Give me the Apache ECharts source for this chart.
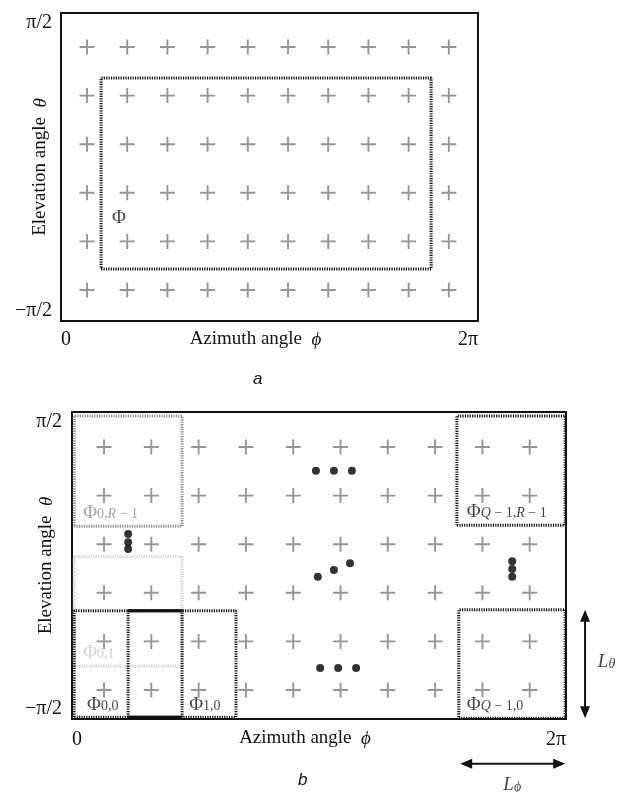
<!DOCTYPE html>
<html>
<head>
<meta charset="utf-8">
<script src="https://cdn.jsdelivr.net/npm/echarts@6/dist/echarts.min.js"></script>
<style>
  html, body { margin: 0; padding: 0; background: #fff; }
  #main { width: 619px; height: 792px; }
</style>
</head>
<body>
<div id="main"></div>
<script>
// grid of sampling directions (cell units, column / row index)
const gridCols = [0, 1, 2, 3, 4, 5, 6, 7, 8, 9];
const gridRows = [0, 1, 2, 3, 4, 5];

// region boxes [x0, y0, x1, y1] in cell units
const boxPhi = [0.35, 0.43, 8.56, 4.36];
const boxR = [-0.63, 3.37, 1.65, 5.64];   // Phi_{0,R-1}
const box01 = [-0.63, 0.49, 1.65, 2.74];  // Phi_{0,1}
const box00 = [-0.63, -0.56, 1.65, 1.63]; // Phi_{0,0}
const box10 = [0.51, -0.56, 2.79, 1.63];  // Phi_{1,0}
const boxQR = [7.46, 3.39, 9.75, 5.64];   // Phi_{Q-1,R-1}
const boxQ0 = [7.50, -0.58, 9.75, 1.65];  // Phi_{Q-1,0}

// ellipsis dots
const dotsTop = [[4.48, 4.51], [4.86, 4.51], [5.24, 4.51]];
const dotsDiag = [[4.52, 2.33], [4.86, 2.47], [5.2, 2.61]];
const dotsBottom = [[4.57, 0.45], [4.95, 0.45], [5.33, 0.45]];
const dotsLeft = [[0.51, 3.21], [0.51, 3.04], [0.51, 2.90]];
const dotsRight = [[8.63, 2.65], [8.63, 2.49], [8.63, 2.33]];

// size arrows L_theta and L_phi [x0, y0, x1, y1]
const arrowTheta = [10.17, 1.65, 10.17, -0.58];
const arrowPhi = [7.53, -1.52, 9.75, -1.52];

// tick labels
const xTicks = ['0', '2π'];
const yTicks = ['−π/2', 'π/2'];

const serif = '"Liberation Serif", "DejaVu Serif", serif';
const plusPath = 'path://M7,0H9V7H16V9H9V16H7V9H0V7H7Z';

const chart = echarts.init(document.getElementById('main'));

function boxLine(b) {
  return [[b[0], b[1]], [b[2], b[1]], [b[2], b[3]], [b[0], b[3]], [b[0], b[1]]];
}
function plusData() {
  const d = [];
  gridRows.forEach(r => gridCols.forEach(c => d.push([c, r])));
  return d;
}
function boxSeries(b, gi, color) {
  return {
    type: 'line', xAxisIndex: gi, yAxisIndex: gi, data: boxLine(b),
    symbol: 'none', silent: true, z: 3,
    lineStyle: { color: color, width: 3, type: [1.2, 1.2] }
  };
}
function solidSeg(pts, gi) {
  return {
    type: 'line', xAxisIndex: gi, yAxisIndex: gi, data: pts,
    symbol: 'none', silent: true, z: 4,
    lineStyle: { color: '#111', width: 3 }
  };
}
function xAxisOf(gi, min, max, margin, pad) {
  return {
    gridIndex: gi, type: 'value', min: min, max: max, interval: max - min,
    axisLine: { show: false }, axisTick: { show: false }, splitLine: { show: false },
    axisLabel: {
      margin: margin, color: '#111', fontFamily: serif, fontSize: 20,
      alignMinLabel: 'left', alignMaxLabel: 'right',
      formatter: v => (Math.abs(v - min) < 1e-6 ? xTicks[0] : xTicks[1])
    },
    name: 'Azimuth angle  {i|ϕ}', nameLocation: 'middle', nameGap: pad, nameMoveOverlap: false,
    nameTextStyle: {
      color: '#111', fontFamily: serif, fontSize: 19, padding: [0, 28, 0, 0],
      rich: { i: { fontFamily: serif, fontStyle: 'italic', fontSize: 19, color: '#111' } }
    }
  };
}
function yAxisOf(gi, min, max, margin, gap) {
  return {
    gridIndex: gi, type: 'value', min: min, max: max, interval: max - min,
    axisLine: { show: false }, axisTick: { show: false }, splitLine: { show: false },
    axisLabel: {
      margin: margin, color: '#111', fontFamily: serif, fontSize: 20,
      verticalAlignMinLabel: 'bottom', verticalAlignMaxLabel: 'top',
      formatter: v => (Math.abs(v - min) < 1e-6 ? yTicks[0] : yTicks[1])
    },
    name: 'Elevation angle  {i|θ}', nameLocation: 'middle', nameGap: gap, nameRotate: 90,
    nameMoveOverlap: false,
    nameTextStyle: {
      color: '#111', fontFamily: serif, fontSize: 19,
      rich: { i: { fontFamily: serif, fontStyle: 'italic', fontSize: 19, color: '#111' } }
    }
  };
}

const richSub = {
  P: { fontFamily: serif, fontSize: 19, lineHeight: 18, verticalAlign: 'top' },
  s: { fontFamily: serif, fontSize: 14, lineHeight: 13, verticalAlign: 'bottom' },
  si: { fontFamily: serif, fontSize: 14, lineHeight: 13, verticalAlign: 'bottom', fontStyle: 'italic' },
  L: { fontFamily: serif, fontSize: 19, lineHeight: 19, verticalAlign: 'top', fontStyle: 'italic' }
};
function textSeries(items, gi, color) {
  return {
    type: 'scatter', xAxisIndex: gi, yAxisIndex: gi, symbolSize: 0, clip: false, silent: true, z: 6,
    data: items.map(t => ({
      value: [t[0], t[1]],
      label: {
        show: true, position: t[3] || 'right', distance: 0, color: t[4] || color,
        formatter: t[2], lineHeight: 24, rich: richSub
      }
    }))
  };
}
function dotSeries(pts) {
  return {
    type: 'scatter', xAxisIndex: 1, yAxisIndex: 1, data: pts, symbol: 'circle',
    symbolSize: 8, itemStyle: { color: '#000' }, silent: true, z: 5
  };
}
// double-headed arrow drawn through the axis scales
function renderArrow(params, api) {
  const p0 = api.coord([api.value(0), api.value(1)]);
  const p1 = api.coord([api.value(2), api.value(3)]);
  const dx = p1[0] - p0[0], dy = p1[1] - p0[1];
  const len = Math.sqrt(dx * dx + dy * dy);
  const ux = dx / len, uy = dy / len, nx = -uy, ny = ux;
  const hl = 12, hw = 5;
  function head(tip, s) {
    const bx = tip[0] - s * ux * hl, by = tip[1] - s * uy * hl;
    return { type: 'polygon', shape: { points: [tip, [bx + nx * hw, by + ny * hw], [bx - nx * hw, by - ny * hw]] },
      style: { fill: '#111' } };
  }
  return {
    type: 'group',
    children: [
      { type: 'line', shape: { x1: p0[0] + ux * 6, y1: p0[1] + uy * 6, x2: p1[0] - ux * 6, y2: p1[1] - uy * 6 },
        style: { stroke: '#111', lineWidth: 2 } },
      head(p0, -1), head(p1, 1)
    ]
  };
}

chart.setOption({
  animation: false,
  backgroundColor: '#fff',
  title: [
    { text: 'a', left: 253, top: 371, padding: 0,
      textStyle: { fontFamily: '"Liberation Sans", Arial, sans-serif', fontStyle: 'italic', fontWeight: 'normal', fontSize: 17, color: '#111' } },
    { text: 'b', left: 298, top: 772, padding: 0,
      textStyle: { fontFamily: '"Liberation Sans", Arial, sans-serif', fontStyle: 'italic', fontWeight: 'normal', fontSize: 17, color: '#111' } }
  ],
  grid: [
    { left: 61, top: 13, width: 417, height: 308, outerBoundsMode: 'none', containLabel: false,
      show: true, borderColor: '#111', borderWidth: 2, backgroundColor: 'transparent' },
    { left: 72, top: 412, width: 494, height: 307, outerBoundsMode: 'none', containLabel: false,
      show: true, borderColor: '#111', borderWidth: 2, backgroundColor: 'transparent' }
  ],
  xAxis: [xAxisOf(0, -0.647, 9.726, 9, 9), xAxisOf(1, -0.677, 9.767, 11, 10)],
  yAxis: [yAxisOf(0, -0.638, 5.70, 9, 11), yAxisOf(1, -0.597, 5.72, 10, 16)],
  series: [
    // panel a
    { type: 'scatter', xAxisIndex: 0, yAxisIndex: 0, data: plusData(), symbol: plusPath,
      symbolSize: 15, itemStyle: { color: '#7a7a7a' }, silent: true },
    boxSeries(boxPhi, 0, '#111'),
    textSeries([[0.62, 1.5, '{P|Φ}']], 0, '#111'),

    // panel b
    { type: 'scatter', xAxisIndex: 1, yAxisIndex: 1, data: plusData(), symbol: plusPath,
      symbolSize: 15, itemStyle: { color: '#7a7a7a' }, silent: true },
    boxSeries(box01, 1, '#d2d2d2'),
    boxSeries(boxR, 1, '#8c8c8c'),
    boxSeries(box00, 1, '#111'),
    boxSeries(box10, 1, '#111'),
    boxSeries(boxQR, 1, '#111'),
    boxSeries(boxQ0, 1, '#111'),
    solidSeg([[box10[0], box00[3]], [box00[2], box00[3]]], 1),
    solidSeg([[box10[0], box00[1]], [box00[2], box00[1]]], 1),
    dotSeries(dotsTop), dotSeries(dotsDiag), dotSeries(dotsBottom),
    dotSeries(dotsLeft), dotSeries(dotsRight),
    textSeries([
      [-0.44, 3.66, '{P|Φ}{s|0,}{si|R}{s| − 1}', 'right', '#8c8c8c'],
      [7.67, 3.68, '{P|Φ}{si|Q}{s| − 1,}{si|R}{s| − 1}'],
      [-0.44, 0.78, '{P|Φ}{s|0,1}', 'right', '#c8c8c8'],
      [-0.36, -0.29, '{P|Φ}{s|0,0}'],
      [1.80, -0.29, '{P|Φ}{s|1,0}'],
      [7.67, -0.29, '{P|Φ}{si|Q}{s| − 1,0}'],
      [10.44, 0.58, '{L|L}{si|θ}'],
      [8.63, -1.95, '{L|L}{si|ϕ}', 'inside']
    ], 1, '#111'),
    // dimension arrows
    { type: 'custom', xAxisIndex: 1, yAxisIndex: 1, clip: false, silent: true, z: 5,
      renderItem: renderArrow, data: [arrowTheta, arrowPhi] }
  ]
});
</script>
</body>
</html>
